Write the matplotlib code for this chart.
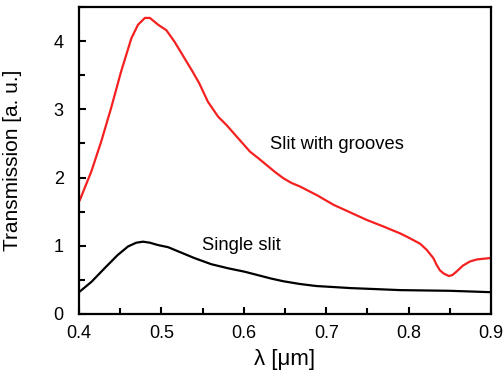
import matplotlib
matplotlib.use("Agg")
import matplotlib.pyplot as plt
from matplotlib.ticker import MultipleLocator

plt.rcParams['font.family'] = ['Liberation Sans', 'DejaVu Sans']

grooves_x = [0.401, 0.415, 0.427, 0.439, 0.451, 0.4635, 0.4716, 0.480, 0.486, 0.496,
             0.506, 0.516, 0.528, 0.538, 0.546, 0.5565, 0.569, 0.579, 0.595, 0.6075,
             0.618, 0.628, 0.638, 0.648, 0.658, 0.668, 0.689, 0.709, 0.729, 0.749,
             0.770, 0.790, 0.800, 0.814, 0.822, 0.830, 0.834, 0.838, 0.843, 0.849,
             0.853, 0.858, 0.866, 0.8745, 0.883, 0.891, 0.899]
grooves_y = [1.67, 2.09, 2.53, 3.02, 3.55, 4.04, 4.24, 4.34, 4.34, 4.24,
             4.16, 3.99, 3.75, 3.55, 3.38, 3.11, 2.89, 2.77, 2.55, 2.38,
             2.28, 2.18, 2.08, 1.99, 1.92, 1.87, 1.74, 1.60, 1.49, 1.38,
             1.28, 1.18, 1.12, 1.03, 0.94, 0.82, 0.72, 0.64, 0.59, 0.557,
             0.57, 0.62, 0.71, 0.77, 0.80, 0.81, 0.82]

single_x = [0.401, 0.415, 0.431, 0.447, 0.4595, 0.4695, 0.4777, 0.486, 0.496, 0.508,
            0.524, 0.540, 0.5605, 0.581, 0.601, 0.617, 0.633, 0.648, 0.668, 0.688,
            0.709, 0.729, 0.760, 0.790, 0.820, 0.850, 0.875, 0.899]
single_y = [0.33, 0.47, 0.67, 0.865, 0.99, 1.045, 1.06, 1.045, 1.01, 0.98,
            0.90, 0.82, 0.73, 0.67, 0.62, 0.57, 0.52, 0.48, 0.44, 0.41,
            0.395, 0.38, 0.365, 0.35, 0.345, 0.34, 0.33, 0.32]

x_ticks = [0.4, 0.5, 0.6, 0.7, 0.8, 0.9]
x_tick_labels = ["0.4", "0.5", "0.6", "0.7", "0.8", "0.9"]
y_ticks = [0, 1, 2, 3, 4]
y_tick_labels = ["0", "1", "2", "3", "4"]

fig = plt.figure(figsize=(5.03, 3.72), dpi=100)
ax = fig.add_axes([79/503, 1 - 314/372, (491-79)/503, (314-7)/372])

ax.plot(grooves_x, grooves_y, color='#f52020', lw=1.6)
ax.plot(single_x, single_y, color='black', lw=1.6)

ax.set_xlim(0.4, 0.9)
ax.set_ylim(0, 4.5)
ax.set_xticks(x_ticks)
ax.set_xticklabels(x_tick_labels)
ax.set_yticks(y_ticks)
ax.set_yticklabels(y_tick_labels)
ax.xaxis.set_minor_locator(MultipleLocator(0.05))
ax.yaxis.set_minor_locator(MultipleLocator(0.5))
ax.tick_params(which='both', direction='in', top=False, right=False, labelsize=13, width=1.5)
ax.tick_params(which='major', length=5)
ax.tick_params(which='minor', length=4)
ax.tick_params(axis='x', which='major', pad=8)
ax.tick_params(axis='y', which='major', pad=11)
for s in ax.spines.values():
    s.set_linewidth(1.6)

ax.set_xlabel("λ [μm]", fontsize=16)
ax.xaxis.set_label_coords(0.5, -0.115)
ax.set_ylabel("Transmission [a. u.]", fontsize=15)
ax.yaxis.set_label_coords(-0.138, 0.5)

ax.text(0.632, 2.48, "Slit with grooves", fontsize=13.2, va='center', ha='left')
ax.text(0.549, 1.01, "Single slit", fontsize=13.2, va='center', ha='left')

fig.savefig("out.png", dpi=100)
